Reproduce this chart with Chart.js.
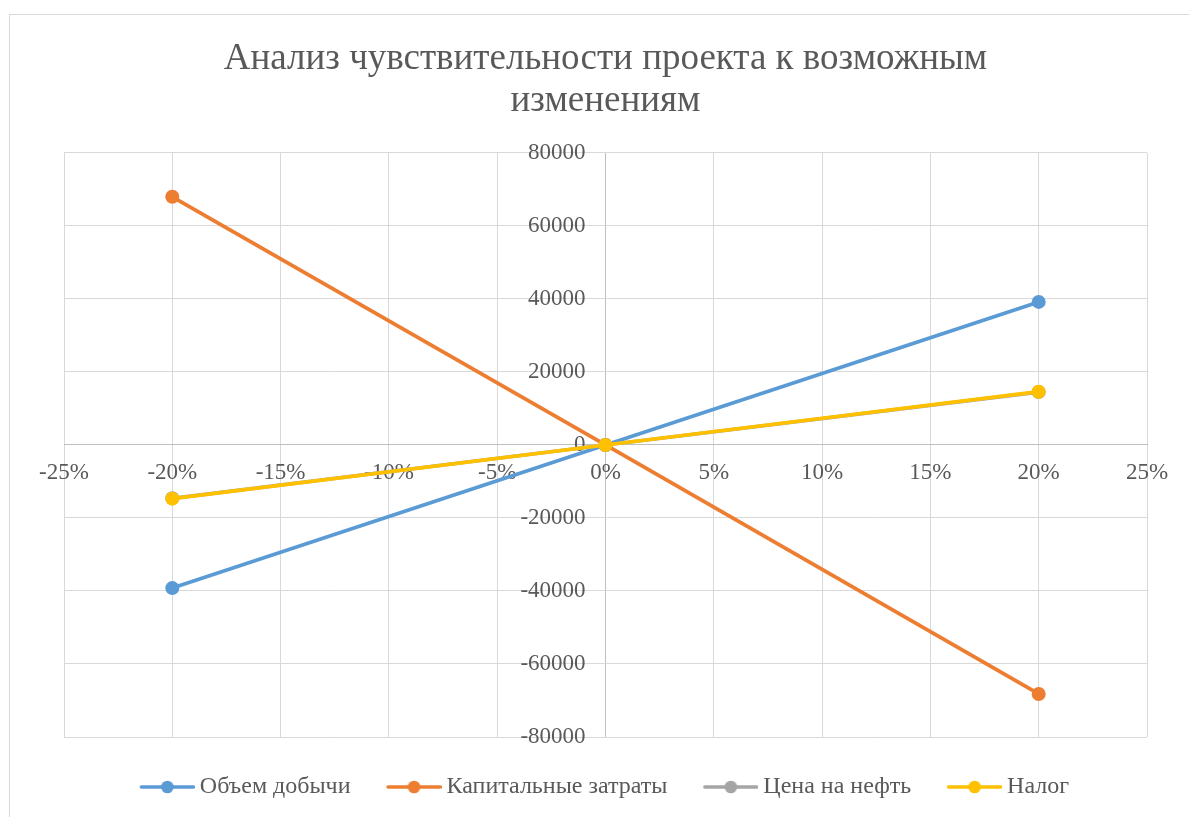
<!DOCTYPE html>
<html>
<head>
<meta charset="utf-8">
<script src="https://cdn.jsdelivr.net/npm/chart.js@4"></script>
<style>
  html, body { margin: 0; padding: 0; background: #fff; overflow: hidden; }
  #wrap { position: absolute; left: 0; top: 0; width: 1189px; height: 817px; }
</style>
</head>
<body>
<div id="wrap"><canvas id="c"></canvas></div>
<script>
// ---- data ----
const titleLines = ['Анализ чувствительности проекта к возможным', 'изменениям'];
const seriesNames = ['Объем добычи', 'Капитальные затраты', 'Цена на нефть', 'Налог'];
const changes = [-20, 0, 20];               // % change
const volumeValues = [-39200, 0, 39200];
const capexValues = [68000, 0, -68200];
const oilPriceValues = [-14600, 0, 14500];
const taxValues = [-14700, 0, 14600];
const xTicks = [-25, -20, -15, -10, -5, 0, 5, 10, 15, 20, 25];
const yTicks = [-80000, -60000, -40000, -20000, 0, 20000, 40000, 60000, 80000];

const colors = ['#5B9BD5', '#ED7D31', '#A5A5A5', '#FFC000'];
const allValues = [volumeValues, capexValues, oilPriceValues, taxValues];

function pts(vals) { return changes.map((x, i) => ({ x: x, y: vals[i] })); }

function legendIcon(color) {
  const c = document.createElement('canvas');
  c.width = 60; c.height = 14;
  const g = c.getContext('2d');
  g.strokeStyle = color; g.lineWidth = 3.5; g.lineCap = 'round';
  g.beginPath(); g.moveTo(6.5, 7); g.lineTo(58.5, 7); g.stroke();
  g.fillStyle = color;
  g.beginPath(); g.arc(32.5, 7, 6.3, 0, Math.PI * 2); g.fill();
  return c;
}
const icons = colors.map(legendIcon);

const frame = {
  id: 'frame',
  beforeDraw(chart) {
    const ctx = chart.ctx;
    ctx.save();
    ctx.strokeStyle = '#d9d9d9';
    ctx.lineWidth = 1;
    ctx.strokeRect(9.5, 14.5, 1200, 820);
    ctx.restore();
  }
};

const datasets = seriesNames.map((name, i) => ({
  label: name,
  data: pts(allValues[i]),
  borderColor: colors[i],
  backgroundColor: colors[i],
  borderWidth: 3.75,
  pointRadius: 7,
  pointHoverRadius: 7,
  pointBorderWidth: 0,
  showLine: true,
  tension: 0,
  order: seriesNames.length - i
}));

const font = 'Liberation Serif, Times New Roman, serif';

new Chart(document.getElementById('c'), {
  type: 'scatter',
  data: { datasets },
  plugins: [frame],
  options: {
    responsive: true,
    maintainAspectRatio: false,
    animation: false,
    events: [],
    layout: { padding: { left: 64, right: 42, top: 14, bottom: 8 } },
    scales: {
      x: {
        type: 'linear',
        position: { y: 0 },
        min: -25, max: 25,
        afterBuildTicks(scale) { scale.ticks = xTicks.map(v => ({ value: v })); },
        ticks: {
          padding: 14,
          color: '#595959',
          font: { family: font, size: 23 },
          callback: v => v + '%',
          maxRotation: 0, autoSkip: false
        },
        grid: {
          color: c => (c.tick && c.tick.value === 0 ? '#bfbfbf' : '#d9d9d9'),
          lineWidth: 1, drawTicks: false
        },
        border: { color: '#bfbfbf', width: 1 }
      },
      y: {
        type: 'linear',
        position: { x: -0.92 },
        min: -80000, max: 80000,
        afterBuildTicks(scale) { scale.ticks = yTicks.map(v => ({ value: v })); },
        ticks: {
          padding: 0,
          color: '#595959',
          font: { family: font, size: 23 },
          callback: v => String(v),
          autoSkip: false
        },
        grid: { color: '#d9d9d9', lineWidth: 1, drawTicks: false },
        border: { display: false }
      }
    },
    plugins: {
      tooltip: { enabled: false },
      title: {
        display: true,
        text: titleLines,
        color: '#595959',
        font: { family: font, size: 37, weight: 'normal', lineHeight: 1.135 },
        padding: { top: 24, bottom: 31 }
      },
      legend: {
        display: true,
        position: 'bottom',
        labels: {
          usePointStyle: true,
          pointStyleWidth: 46,
          padding: 38,
          color: '#595959',
          font: { family: font, size: 24 },
          sort: (a, b) => a.datasetIndex - b.datasetIndex,
          generateLabels(chart) {
            const items = Chart.defaults.plugins.legend.labels.generateLabels(chart);
            items.forEach(it => { it.pointStyle = icons[it.datasetIndex]; });
            return items;
          }
        }
      }
    }
  }
});
</script>
</body>
</html>
